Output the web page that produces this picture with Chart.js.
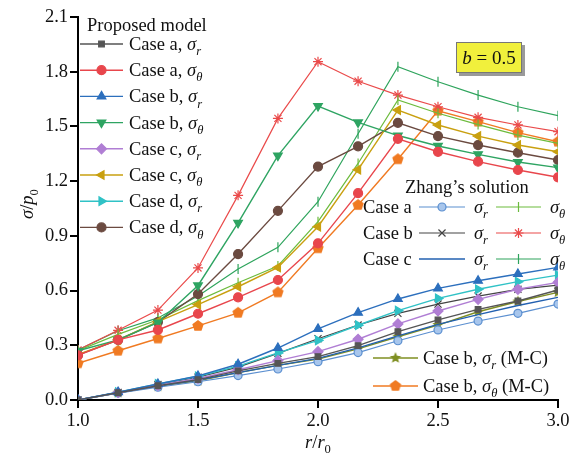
<!DOCTYPE html>
<html>
<head>
<meta charset="utf-8">
<script src="https://cdn.jsdelivr.net/npm/chart.js@4/dist/chart.umd.min.js"></script>
<style>
  html, body { margin: 0; padding: 0; background: #fff; }
</style>
</head>
<body>
<canvas id="graph" width="576" height="459"></canvas>
<script>
// r/r0 positions
const rr = [1.0, 1.167, 1.333, 1.5, 1.667, 1.833, 2.0, 2.167, 2.333, 2.5, 2.667, 2.833, 3.0];

// proposed model
const caseA_sr = [0, 0.040, 0.078, 0.112, 0.160, 0.201, 0.238, 0.298, 0.375, 0.439, 0.497, 0.543, 0.603];
const caseA_st = [0.245, 0.330, 0.384, 0.473, 0.563, 0.658, 0.859, 1.134, 1.432, 1.361, 1.307, 1.261, 1.221];
const caseB_sr = [0, 0.043, 0.088, 0.132, 0.196, 0.285, 0.390, 0.479, 0.554, 0.612, 0.654, 0.691, 0.727];
const caseB_st = [0.270, 0.330, 0.425, 0.628, 0.971, 1.340, 1.612, 1.522, 1.450, 1.393, 1.347, 1.305, 1.274];
const caseC_sr = [0, 0.041, 0.080, 0.118, 0.166, 0.216, 0.265, 0.333, 0.417, 0.488, 0.552, 0.607, 0.645];
const caseC_st = [0.250, 0.330, 0.430, 0.523, 0.621, 0.727, 0.950, 1.263, 1.590, 1.508, 1.447, 1.398, 1.361];
const caseD_sr = [0, 0.043, 0.088, 0.130, 0.186, 0.258, 0.327, 0.410, 0.490, 0.557, 0.607, 0.649, 0.685];
const caseD_st = [0.247, 0.329, 0.427, 0.581, 0.800, 1.037, 1.280, 1.391, 1.520, 1.447, 1.398, 1.356, 1.316];

// Zhang's solution
const zhA_sr = [0, 0.038, 0.070, 0.100, 0.134, 0.170, 0.210, 0.260, 0.325, 0.384, 0.433, 0.475, 0.526];
const zhA_st = [0.270, 0.360, 0.440, 0.545, 0.643, 0.735, 0.978, 1.297, 1.645, 1.572, 1.510, 1.452, 1.407];
const zhB_sr = [0, 0.042, 0.085, 0.125, 0.180, 0.256, 0.336, 0.411, 0.475, 0.526, 0.570, 0.607, 0.630];
const zhB_st = [0.274, 0.382, 0.493, 0.724, 1.122, 1.544, 1.855, 1.748, 1.672, 1.608, 1.550, 1.508, 1.471];
const zhC_sr = [0, 0.040, 0.076, 0.110, 0.150, 0.190, 0.228, 0.286, 0.352, 0.415, 0.468, 0.518, 0.563];
const zhC_st = [0.274, 0.380, 0.450, 0.570, 0.718, 0.837, 1.087, 1.460, 1.827, 1.745, 1.672, 1.608, 1.559];

// M-C
const mcB_sr = [0, 0.040, 0.075, 0.105, 0.150, 0.190, 0.225, 0.280, 0.347, 0.411, 0.484, 0.540, 0.590];
const mcB_st = [0.201, 0.270, 0.337, 0.406, 0.478, 0.590, 0.832, 1.069, 1.320, 1.586, 1.526, 1.466, 1.416];

const yTicks = [0, 0.3, 0.6, 0.9, 1.2, 1.5, 1.8, 2.1];
const xTicks = [1.0, 1.5, 2.0, 2.5, 3.0];

const FONT = '"Liberation Serif", "DejaVu Serif", serif';

function polyMarker(color, n, r, inner) {
  let c = document.createElement("canvas");
  c.width = 2 * r + 2;
  c.height = 2 * r + 2;
  let g = c.getContext("2d");
  g.translate(r + 1, r + 1);
  g.beginPath();
  let k = inner ? n * 2 : n;
  for (let i = 0; i < k; i++) {
    let a = -Math.PI / 2 + i * 2 * Math.PI / k;
    let rad = inner && i % 2 ? r * inner : r;
    g.lineTo(rad * Math.cos(a), rad * Math.sin(a));
  }
  g.closePath();
  g.fillStyle = color;
  g.fill();
  return c;
}

function pts(vals) {
  return vals.map((v, i) => ({ x: rr[i], y: v }));
}

function ds(vals, color, style, rot, radius, fill, width) {
  return {
    data: pts(vals),
    borderColor: color,
    backgroundColor: fill || color,
    pointBackgroundColor: fill || color,
    pointBorderColor: color,
    pointStyle: style,
    pointRotation: rot || 0,
    pointRadius: radius,
    pointBorderWidth: 1.2,
    borderWidth: width || 1.4,
    tension: 0,
  };
}

const starImg = polyMarker("#7f8f22", 5, 6, 0.45);
const pentImg = polyMarker("#f07a22", 5, 6, 0);

const proposed = [
  ds(caseA_sr, "#555555", "rect", 0, 4),
  ds(caseA_st, "#e8464c", "circle", 0, 4.5),
  ds(caseB_sr, "#2c6fbd", "triangle", 0, 5),
  ds(caseB_st, "#2ea462", "triangle", 180, 5),
  ds(caseC_sr, "#b07ed4", "rectRot", 0, 5),
  ds(caseC_st, "#c9a010", "triangle", 270, 5),
  ds(caseD_sr, "#30c2c6", "triangle", 90, 5),
  ds(caseD_st, "#6b4a40", "circle", 0, 4.5),
];
const zhang = [
  ds(zhA_sr, "#5b8fd0", "circle", 0, 4, "#a8c6ec", 1.2),
  ds(zhA_st, "#6cbb3c", "line", 90, 5, null, 1.2),
  ds(zhB_sr, "#444444", "crossRot", 0, 5, null, 1.2),
  ds(zhB_st, "#ea4a4a", "star", 0, 5, null, 1.2),
  ds(zhC_sr, "#2260b0", "circle", 0, 0, null, 1.4),
  ds(zhC_st, "#2ea45c", "line", 90, 5, null, 1.2),
];
const mc = [
  ds(mcB_sr, "#7f8f22", starImg, 0, 6),
  ds(mcB_st, "#f07a22", pentImg, 0, 6),
];

// rich text: parts = [[text, kind]], kind n / i / is / s
function richWidth(ctx, parts, size) {
  let w = 0;
  parts.forEach(([t, k]) => {
    let sub = k === "is" || k === "s";
    let it = k === "i" || k === "is";
    ctx.font = (it ? "italic " : "") + (sub ? size * 0.68 : size) + "px " + FONT;
    w += ctx.measureText(t).width;
  });
  return w;
}
function richText(ctx, parts, x, y, size, align) {
  let w = richWidth(ctx, parts, size);
  if (align === "center") x -= w / 2;
  ctx.textAlign = "left";
  ctx.textBaseline = "alphabetic";
  ctx.fillStyle = "#111";
  parts.forEach(([t, k]) => {
    let sub = k === "is" || k === "s";
    let it = k === "i" || k === "is";
    ctx.font = (it ? "italic " : "") + (sub ? size * 0.68 : size) + "px " + FONT;
    ctx.fillText(t, x, sub ? y + size * 0.28 : y);
    x += ctx.measureText(t).width;
  });
}

function sample(ctx, d, x1, x2, y) {
  ctx.save();
  ctx.strokeStyle = d.borderColor;
  ctx.lineWidth = d.borderWidth;
  ctx.beginPath();
  ctx.moveTo(x1, y);
  ctx.lineTo(x2, y);
  ctx.stroke();
  if (d.pointRadius > 0) {
    ctx.fillStyle = d.pointBackgroundColor;
    ctx.strokeStyle = d.pointBorderColor;
    ctx.lineWidth = d.pointBorderWidth;
    Chart.helpers.drawPoint(ctx, {
      pointStyle: d.pointStyle,
      rotation: d.pointRotation,
      radius: d.pointRadius,
      borderWidth: d.pointBorderWidth,
    }, (x1 + x2) / 2, y);
  }
  ctx.restore();
}

const sr = [["σ", "i"], ["r", "is"]];
const st = [["σ", "i"], ["θ", "is"]];

const legendPlugin = {
  id: "legendes",
  afterDraw(chart) {
    let ctx = chart.ctx;
    const size = 18.5;

    // proposed model
    richText(ctx, [["Proposed model", "n"]], 87, 31, size);
    const names = ["Case a, ", "Case a, ", "Case b, ", "Case b, ", "Case c, ", "Case c, ", "Case d, ", "Case d, "];
    proposed.forEach((d, i) => {
      let y = 44 + i * 26.2;
      sample(ctx, d, 80, 123, y);
      richText(ctx, [[names[i], "n"]].concat(i % 2 ? st : sr), 129, y + 6, size);
    });

    // Zhang's solution
    richText(ctx, [["Zhang’s solution", "n"]], 405, 193, size);
    ["Case a", "Case b", "Case c"].forEach((n, i) => {
      let y = 207 + i * 26;
      richText(ctx, [[n, "n"]], 363, y + 6, size);
      sample(ctx, zhang[2 * i], 419, 465, y);
      richText(ctx, sr, 474, y + 6, size);
      sample(ctx, zhang[2 * i + 1], 496, 541, y);
      richText(ctx, st, 550, y + 6, size);
    });

    // M-C
    sample(ctx, mc[0], 373, 418, 358);
    richText(ctx, [["Case b, ", "n"]].concat(sr, [[" (M-C)", "n"]]), 423, 364, size);
    sample(ctx, mc[1], 373, 418, 386);
    richText(ctx, [["Case b, ", "n"]].concat(st, [[" (M-C)", "n"]]), 423, 392, size);

    // b = 0.5 box
    ctx.save();
    ctx.fillStyle = "#9a9a9a";
    ctx.fillRect(459, 45, 66, 31);
    ctx.fillStyle = "#f1f03c";
    ctx.fillRect(456, 42, 66, 31);
    ctx.strokeStyle = "#777";
    ctx.lineWidth = 1;
    ctx.strokeRect(456.5, 42.5, 65, 30);
    ctx.restore();
    richText(ctx, [["b", "i"], [" = 0.5", "n"]], 489, 64, 19, "center");

    // axis titles
    richText(ctx, [["r", "i"], ["/", "n"], ["r", "i"], ["0", "s"]], 318, 448, size, "center");
    ctx.save();
    ctx.translate(33, 204);
    ctx.rotate(-Math.PI / 2);
    richText(ctx, [["σ", "i"], ["/", "n"], ["p", "i"], ["0", "s"]], 0, 0, size, "center");
    ctx.restore();
  },
};

let graph = document.getElementById("graph");
let myChart = new Chart(graph, {
  type: "line",
  data: { datasets: proposed.concat(zhang, mc) },
  options: {
    responsive: false,
    animation: false,
    layout: { padding: { top: 17, right: 18, left: 0, bottom: 0 } },
    plugins: {
      legend: { display: false },
      tooltip: { enabled: false },
    },
    scales: {
      x: {
        type: "linear",
        min: 1,
        max: 3,
        afterFit: (s) => { s.height = 59; },
        afterBuildTicks: (s) => { s.ticks = xTicks.map((v) => ({ value: v })); },
        border: { color: "#000", width: 2 },
        grid: { drawOnChartArea: false, tickLength: 8, color: "#000", lineWidth: 2 },
        ticks: {
          color: "#111",
          padding: 2,
          font: { family: FONT, size: 18.5 },
          callback: (v) => v.toFixed(1),
        },
      },
      y: {
        min: 0,
        max: 2.1,
        afterFit: (s) => { s.width = 78; },
        afterBuildTicks: (s) => { s.ticks = yTicks.map((v) => ({ value: v })); },
        border: { color: "#000", width: 2 },
        grid: { drawOnChartArea: false, tickLength: 8, color: "#000", lineWidth: 2 },
        ticks: {
          color: "#111",
          padding: 2,
          font: { family: FONT, size: 18.5 },
          callback: (v) => v.toFixed(1),
        },
      },
    },
  },
  plugins: [legendPlugin],
});
</script>
</body>
</html>
